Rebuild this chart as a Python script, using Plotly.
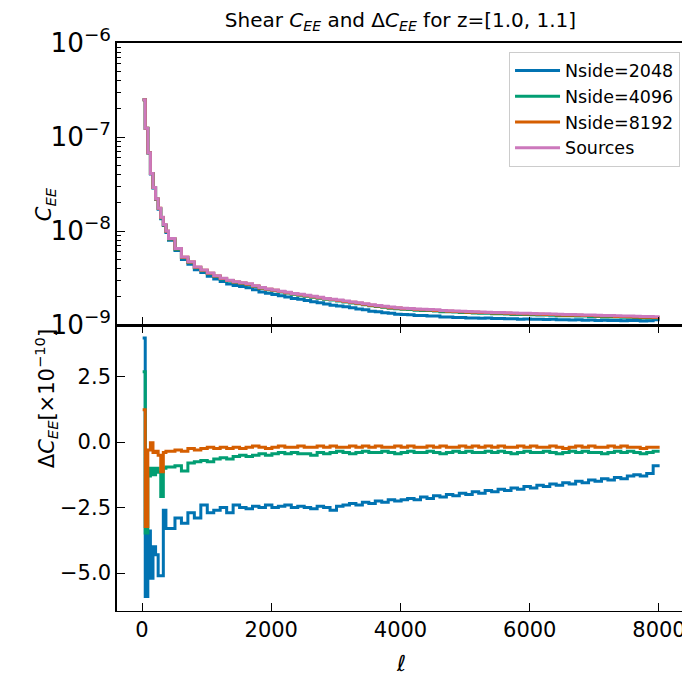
import plotly.graph_objects as go
from plotly.subplots import make_subplots

## Bin edges in ell (fine bins at low ell, 100-wide afterwards)
ell_edges = [10, 50, 90, 130, 170, 210, 250, 290, 330, 370] + list(range(410, 8011, 100))

# Sources C_EE per bin, in units of 1e-9
sources_1e9 = [249, 124, 68, 41, 29, 22, 17.5, 14, 11.7, 10.0,
               8.3, 6.5, 5.3, 4.7, 4.15, 3.85, 3.58, 3.35, 3.15, 3.0,
               2.88, 2.82, 2.74, 2.62, 2.5, 2.42, 2.36, 2.29, 2.23, 2.17,
               2.12, 2.07, 2.02, 1.97, 1.92, 1.88, 1.84, 1.80, 1.76, 1.72,
               1.68, 1.64, 1.61, 1.58, 1.55, 1.53, 1.51, 1.50, 1.48, 1.47,
               1.46, 1.45, 1.43, 1.42, 1.41, 1.40, 1.39, 1.38, 1.375, 1.37,
               1.36, 1.355, 1.35, 1.34, 1.335, 1.33, 1.325, 1.32, 1.315, 1.31,
               1.30, 1.295, 1.29, 1.285, 1.28, 1.275, 1.27, 1.265, 1.26, 1.255,
               1.25, 1.245, 1.24, 1.235, 1.23, 1.225]

# Delta C_EE (Nside - Sources), in units of 1e-10
delta_2048 = [3.97, -5.9, -3.4, -5.2, -4.0, -4.3, -5.1, -5.1, -2.6, -3.3,
              -3.3, -2.9, -3.1, -2.7, -2.9, -2.4, -2.7, -2.6, -2.5, -2.7,
              -2.4, -2.5, -2.55, -2.45, -2.5, -2.4, -2.5, -2.45, -2.4, -2.5,
              -2.45, -2.5, -2.55, -2.45, -2.5, -2.6, -2.45, -2.4, -2.35, -2.4,
              -2.3, -2.35, -2.25, -2.3, -2.2, -2.25, -2.2, -2.15, -2.2, -2.1,
              -2.15, -2.05, -2.1, -2.0, -2.05, -1.95, -2.0, -1.9, -1.95, -1.85,
              -1.9, -1.8, -1.85, -1.75, -1.8, -1.7, -1.75, -1.65, -1.7, -1.6,
              -1.65, -1.55, -1.6, -1.5, -1.55, -1.45, -1.5, -1.4, -1.45, -1.35,
              -1.4, -1.3, -1.25, -1.3, -1.2, -0.9]
delta_4096 = [2.69, -3.47, -1.3, -1.0, -1.25, -1.0, -1.15, -2.08, -1.0, -0.95,
              -0.95, -0.9, -1.1, -0.8, -0.75, -0.7, -0.75, -0.65, -0.6, -0.65,
              -0.55, -0.5, -0.55, -0.5, -0.45, -0.5, -0.45, -0.4, -0.45, -0.4,
              -0.45, -0.45, -0.5, -0.4, -0.45, -0.4, -0.35, -0.4, -0.45, -0.4,
              -0.35, -0.4, -0.4, -0.35, -0.4, -0.45, -0.4, -0.35, -0.4, -0.4,
              -0.35, -0.4, -0.45, -0.4, -0.35, -0.4, -0.35, -0.4, -0.4, -0.35,
              -0.4, -0.35, -0.4, -0.45, -0.4, -0.35, -0.4, -0.4, -0.35, -0.4,
              -0.45, -0.4, -0.35, -0.4, -0.35, -0.4, -0.4, -0.45, -0.4, -0.35,
              -0.4, -0.35, -0.4, -0.45, -0.4, -0.35]
delta_8192 = [1.23, -3.22, -0.3, -0.03, -0.4, -0.35, -0.5, -1.13, -0.4, -0.35,
              -0.35, -0.3, -0.35, -0.25, -0.3, -0.25, -0.2, -0.25, -0.2, -0.25,
              -0.2, -0.25, -0.2, -0.15, -0.2, -0.25, -0.2, -0.15, -0.2, -0.2,
              -0.15, -0.2, -0.2, -0.15, -0.2, -0.15, -0.2, -0.2, -0.15, -0.2,
              -0.15, -0.2, -0.15, -0.2, -0.2, -0.15, -0.2, -0.15, -0.2, -0.2,
              -0.15, -0.2, -0.15, -0.2, -0.2, -0.15, -0.2, -0.15, -0.2, -0.15,
              -0.2, -0.15, -0.2, -0.2, -0.15, -0.2, -0.15, -0.2, -0.2, -0.15,
              -0.2, -0.25, -0.2, -0.15, -0.2, -0.15, -0.2, -0.2, -0.15, -0.2,
              -0.15, -0.2, -0.2, -0.25, -0.2, -0.2]

names = ["Nside=2048", "Nside=4096", "Nside=8192"]
colors = ["#0173B2", "#029E73", "#D55E00"]
src_color = "#CC78BC"
deltas = [delta_2048, delta_4096, delta_8192]

FONT = "DejaVu Sans"


def steps(vals):
    # repeat last value so the final bin is drawn to its right edge
    return list(vals) + [vals[-1]]


fig = make_subplots(rows=2, cols=1, shared_xaxes=True, vertical_spacing=0)

src = [v * 1e-9 for v in sources_1e9]
for name, col, d in zip(names, colors, deltas):
    cee = [s + dd * 1e-10 for s, dd in zip(src, d)]
    fig.add_trace(go.Scatter(x=ell_edges, y=steps(cee), mode="lines", name=name,
                             line=dict(color=col, width=3, shape="hv")), row=1, col=1)
fig.add_trace(go.Scatter(x=ell_edges, y=steps(src), mode="lines", name="Sources",
                         line=dict(color=src_color, width=3, shape="hv")), row=1, col=1)

for name, col, d in zip(names, colors, deltas):
    fig.add_trace(go.Scatter(x=ell_edges, y=steps(d), mode="lines", name=name, showlegend=False,
                             line=dict(color=col, width=3, shape="hv")), row=2, col=1)

axis_common = dict(showline=True, linecolor="black", linewidth=1.6, showgrid=False,
                   zeroline=False, ticks="inside", tickcolor="black", ticklen=8, tickwidth=1.3,
                   automargin=False,
                   tickfont=dict(family=FONT, size=21, color="black"))

fig.update_xaxes(range=[-387, 8387], dtick=2000, tick0=0, **axis_common)
fig.update_xaxes(mirror=True, showticklabels=False, row=1, col=1)
fig.update_xaxes(mirror="ticks", linewidth=1.0, row=2, col=1)

fig.update_yaxes(**axis_common)
fig.update_yaxes(type="log", range=[-9, -6], dtick=1, exponentformat="power", mirror=True,
                 minor=dict(ticks="inside", ticklen=4, tickcolor="black", showgrid=False),
                 row=1, col=1)
fig.update_yaxes(range=[-6.45, 4.47], dtick=2.5, tick0=0, tickformat=".1f", mirror=True,
                 row=2, col=1)

# page body has an 8px margin, so the figure is 8px smaller than the window
fig.update_layout(
    width=682, height=673,
    margin=dict(l=109, r=6, t=35, b=70),
    plot_bgcolor="white", paper_bgcolor="white",
    font=dict(family=FONT, color="black"),
    title=dict(text="Shear <i>C</i><sub><i>EE</i></sub> and Δ<i>C</i><sub><i>EE</i></sub> for z=[1.0, 1.1]",
               x=0.5, xref="paper", y=1 - 12 / 673, yref="container", yanchor="middle",
               font=dict(family=FONT, size=20, color="black")),
    legend=dict(x=0.993, y=0.985, xanchor="right", yanchor="top", itemwidth=45,
                bgcolor="rgba(255,255,255,0.8)", bordercolor="#cccccc", borderwidth=1,
                font=dict(family=FONT, size=17.5, color="black")),
    yaxis=dict(domain=[0.5035, 1.0]),
    yaxis2=dict(domain=[0.0, 0.5035]),
    showlegend=True,
)

# axis labels placed as annotations to match the reference
fig.add_annotation(text="<i>C</i><sub><i>EE</i></sub>", xref="paper", yref="paper",
                   x=-0.153, y=0.75, textangle=-90, showarrow=False,
                   font=dict(family=FONT, size=21, color="black"))
fig.add_annotation(text="Δ<i>C</i><sub><i>EE</i></sub>[×10<sup>−10</sup>]", xref="paper", yref="paper",
                   x=-0.156, y=0.248, textangle=-90, showarrow=False,
                   font=dict(family=FONT, size=21, color="black"))
fig.add_annotation(text="<i>ℓ</i>", xref="paper", yref="paper", x=0.5, y=-0.092,
                   yanchor="middle", showarrow=False,
                   font=dict(family=FONT, size=22, color="black"))

fig.write_html("out.html")
